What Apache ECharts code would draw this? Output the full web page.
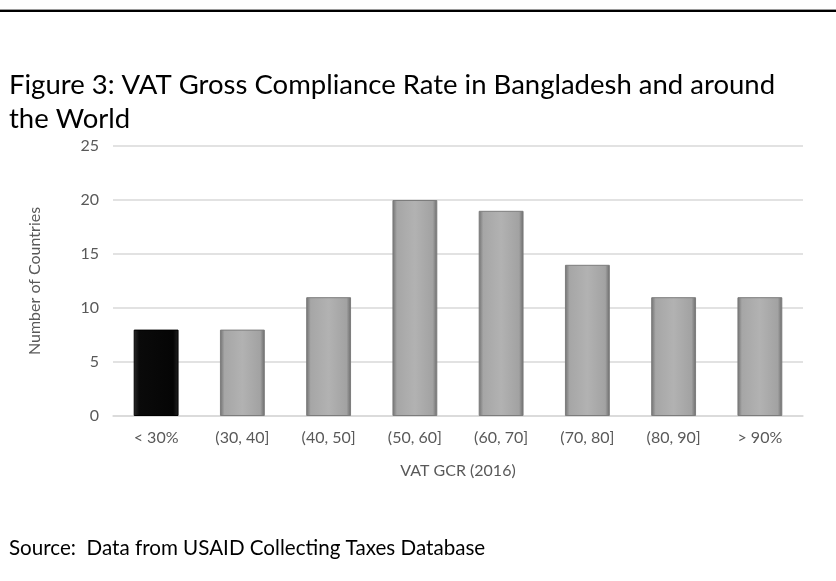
<!DOCTYPE html>
<html>
<head>
<meta charset="utf-8">
<script src="https://cdn.jsdelivr.net/npm/echarts@6/dist/echarts.min.js"></script>
<style>
  html, body { margin: 0; padding: 0; background: #fff; }
  #chart { width: 836px; height: 581px; }
</style>
</head>
<body>
<div id="chart"></div>
<script>
var categories = ['< 30%', '(30, 40]', '(40, 50]', '(50, 60]', '(60, 70]', '(70, 80]', '(80, 90]', '> 90%'];
var countries = [8, 8, 11, 20, 19, 14, 11, 11];
var highlightIndex = 0; // Bangladesh bin
var yTicks = { min: 0, max: 25, interval: 5 };

var greyFill = new echarts.graphic.LinearGradient(0, 0, 1, 0, [
  { offset: 0, color: '#707070' },
  { offset: 0.1, color: '#a6a6a6' },
  { offset: 0.5, color: '#b2b2b2' },
  { offset: 0.9, color: '#a2a2a2' },
  { offset: 1, color: '#6a6a6a' }
]);
var blackFill = new echarts.graphic.LinearGradient(0, 0, 1, 0, [
  { offset: 0, color: '#2a2a2a' },
  { offset: 0.12, color: '#0a0a0a' },
  { offset: 0.88, color: '#050505' },
  { offset: 1, color: '#222222' }
]);

var barData = countries.map(function (v, i) {
  return {
    value: v,
    itemStyle: {
      color: i === highlightIndex ? blackFill : greyFill,
      borderColor: i === highlightIndex ? '#000' : '#7c7c7c',
      borderWidth: 1
    }
  };
});

var myChart = echarts.init(document.getElementById('chart'));
myChart.setOption({
  animation: false,
  backgroundColor: '#fff',
  title: [{
    text: 'Figure 3: VAT Gross Compliance Rate in Bangladesh and around\nthe World',
    left: 4,
    top: 63,
    textStyle: { fontFamily: 'Lato', fontSize: 27.5, fontWeight: 'normal', color: '#000', lineHeight: 34 }
  }, {
    text: 'Source:  Data from USAID Collecting Taxes Database',
    left: 4,
    top: 533,
    textStyle: { fontFamily: 'Lato', fontSize: 20.6, fontWeight: 'normal', color: '#000' }
  }],
  graphic: [
    { type: 'rect', shape: { x: 0, y: 9, width: 836, height: 1 }, style: { fill: '#9a9a9a' } },
    { type: 'rect', shape: { x: 0, y: 10, width: 836, height: 2 }, style: { fill: '#000' } }
  ],
  grid: { left: 113, right: 33, top: 146, bottom: 165 },
  xAxis: {
    type: 'category',
    data: categories,
    name: 'VAT GCR (2016)',
    nameLocation: 'middle',
    nameGap: 47,
    nameTextStyle: { fontFamily: 'Lato', fontSize: 16, color: '#595959' },
    axisLine: { lineStyle: { color: '#d9d9d9', width: 1.5 } },
    axisTick: { show: false },
    axisLabel: { fontFamily: 'Lato', fontSize: 16, color: '#595959', margin: 14 }
  },
  yAxis: {
    type: 'value',
    min: yTicks.min,
    max: yTicks.max,
    interval: yTicks.interval,
    name: 'Number of Countries',
    nameLocation: 'middle',
    nameGap: 70,
    nameTextStyle: { fontFamily: 'Lato', fontSize: 16, color: '#595959' },
    axisLine: { show: false },
    axisTick: { show: false },
    axisLabel: { fontFamily: 'Lato', fontSize: 16, color: '#595959', margin: 14 },
    splitLine: { lineStyle: { color: '#d9d9d9', width: 1.5 } }
  },
  series: [{
    type: 'bar',
    data: barData,
    barWidth: '52%'
  }]
});
</script>
</body>
</html>
